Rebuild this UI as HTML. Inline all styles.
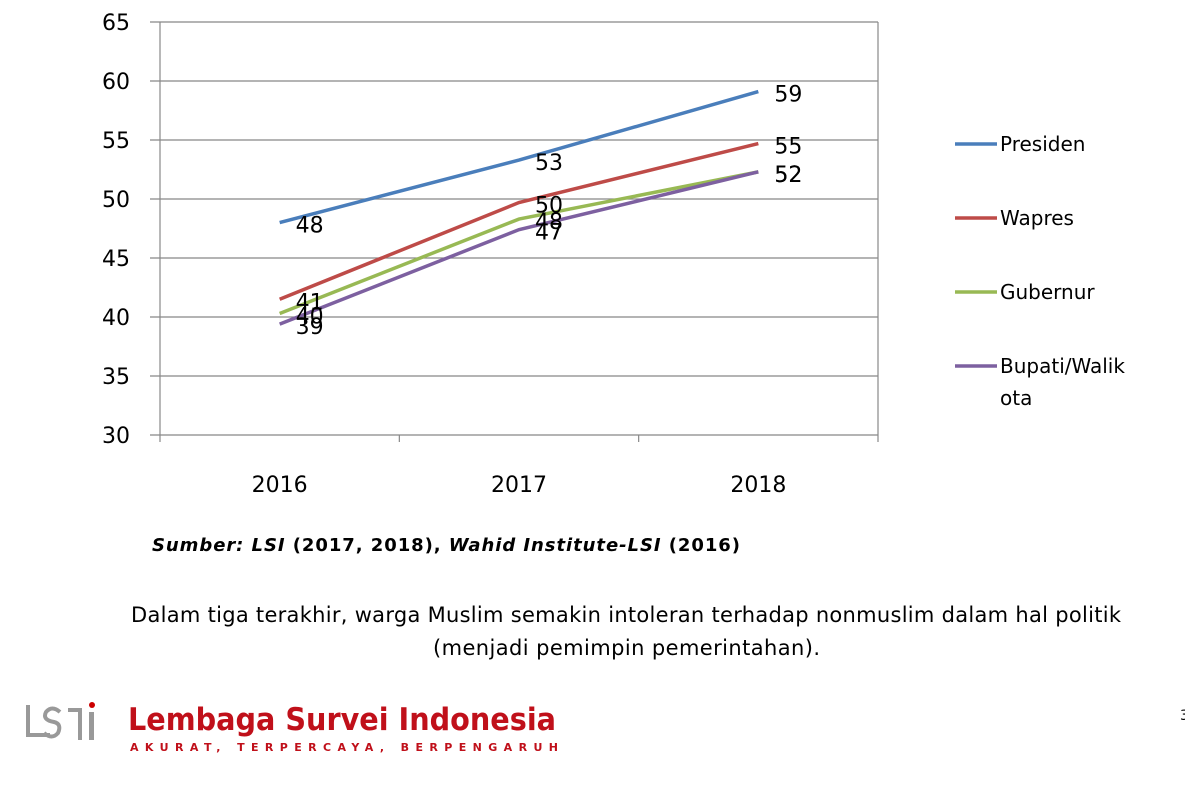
<!DOCTYPE html>
<html><head><meta charset="utf-8"><style>
body{margin:0;background:#fff;width:1185px;height:799px;overflow:hidden;font-family:"DejaVu Sans","Liberation Sans",sans-serif}
svg{position:absolute;left:0;top:0}
</style></head><body>
<svg width="1185" height="799" id="svg">
<g id="grid"></g><g id="series"></g><g id="legend"></g>
<text x="152" y="551" font-family="DejaVu Sans" font-weight="bold" font-size="18" fill="#000" textLength="588"><tspan font-style="italic">Sumber: LSI</tspan> (2017, 2018), <tspan font-style="italic">Wahid Institute-LSI</tspan> (2016)</text>
<text x="131" y="622" font-size="21" fill="#000" textLength="990">Dalam tiga terakhir, warga Muslim semakin intoleran terhadap nonmuslim dalam hal politik</text>
<text x="433" y="655" font-size="21" fill="#000" textLength="387">(menjadi pemimpin pemerintahan).</text>
<g>
<path d="M28 705 V735 H50 M60 712 Q52 705 46 712 Q42 720 54 722 Q62 724 58 733 Q52 740 44 733 M68 710 H80 V740" stroke="#999" stroke-width="4" fill="none"/>
<circle cx="92" cy="705" r="3" fill="#c00"/>
<rect x="89" y="712" width="5" height="28" fill="#999"/>
<text x="128" y="730" font-family="DejaVu Sans" font-weight="bold" font-size="31" fill="#c0101a" textLength="428" lengthAdjust="spacingAndGlyphs">Lembaga Survei Indonesia</text>
<text x="130" y="751" font-family="DejaVu Sans" font-weight="bold" font-size="11" fill="#c0101a" textLength="428">AKURAT, TERPERCAYA, BERPENGARUH</text>
</g>
<text x="1180" y="720" font-size="14" fill="#000">3</text>
</svg>
<script>
const categories=["2016","2017","2018"];
const seriesNames=["Presiden","Wapres","Gubernur","Bupati/Walikota"];
const presiden=[48,53.3,59.1];
const wapres=[41.5,49.7,54.7];
const gubernur=[40.3,48.3,52.3];
const bupati=[39.4,47.4,52.3];
const labelsPresiden=["48","53","59"];
const labelsWapres=["41","50","55"];
const labelsGubernur=["40","48","52"];
const labelsBupati=["39","47","52"];
const yTicks=[30,35,40,45,50,55,60,65];
const colors=["#4a7ebb","#be4b48","#98b954","#7d60a0"];
const NS="http://www.w3.org/2000/svg";
const L=160,R=878,T=22,B=435;
const y=v=>B-(v-30)/35*(B-T);
const x=i=>L+(i+0.5)*(R-L)/categories.length;
function mk(tag,a,p){const e=document.createElementNS(NS,tag);for(const k in a)e.setAttribute(k,a[k]);p.appendChild(e);return e;}
const grid=document.getElementById('grid');
yTicks.forEach(t=>{
 const ln=mk('line',{x1:150,x2:R,y1:y(t),y2:y(t),stroke:'#888','stroke-width':1.2},grid);
 
 
 const tx=mk('text',{x:130,y:y(t)+8,'text-anchor':'end','font-size':22,fill:'#000'},grid);
 tx.textContent=t;
 
 
});
mk('line',{x1:L,x2:L,y1:T,y2:B,stroke:'#888','stroke-width':1.2},grid);
mk('line',{x1:R,x2:R,y1:T,y2:B,stroke:'#888','stroke-width':1.2},grid);
for(let i=0;i<=categories.length;i++){const xx=L+i*(R-L)/categories.length;mk('line',{x1:xx,x2:xx,y1:B,y2:B+7,stroke:'#888','stroke-width':1.2},grid);}
categories.forEach((c,i)=>{
 const tx=mk('text',{x:x(i),y:492,'text-anchor':'middle','font-size':22,fill:'#000'},grid);
 tx.textContent=c;
 
 
});
const all=[presiden,wapres,gubernur,bupati];
const labs=[labelsPresiden,labelsWapres,labelsGubernur,labelsBupati];
const sg=document.getElementById('series');
all.forEach((d,s)=>{
 const pl=mk('polyline',{points:d.map((v,i)=>x(i)+','+y(v)).join(' '),fill:'none',stroke:colors[s],'stroke-width':3.5},sg);
 
 
});
all.forEach((d,s)=>{
 d.forEach((v,i)=>{
  const tx=mk('text',{x:x(i)+16,y:y(v)+10,'font-size':22,fill:'#000'},sg);
  tx.textContent=labs[s][i];
  
  
 });
});
const lg=document.getElementById('legend');
const ly=[144,218,292,366];
seriesNames.forEach((n,s)=>{
 const ln=mk('line',{x1:955,x2:997,y1:ly[s],y2:ly[s],stroke:colors[s],'stroke-width':3.5},lg);
 
 
 const tx=mk('text',{x:1000,y:ly[s]+7,'font-size':20,fill:'#000'},lg);
 if(s===3){tx.textContent='Bupati/Walik';const t2=mk('text',{x:1000,y:ly[s]+39,'font-size':20,fill:'#000'},lg);t2.textContent='ota';}
 else tx.textContent=n;
 
 
});
</script>
</body></html>
